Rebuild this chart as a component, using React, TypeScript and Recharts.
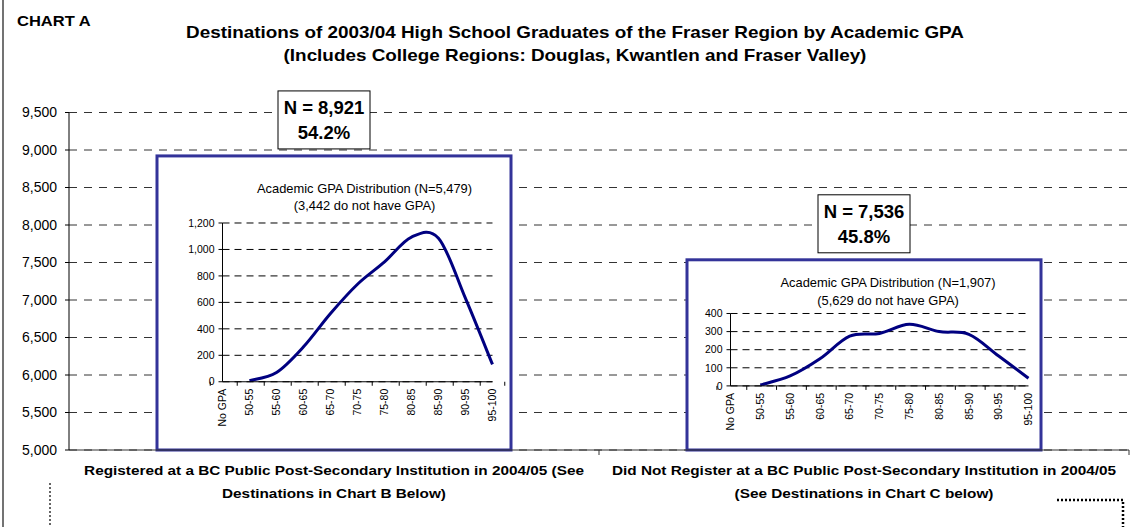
import React from "react";
import { BarChart, Bar, XAxis, YAxis, CartesianGrid, LineChart, Line } from "recharts";

// ---------- data ----------
const CATEGORY_LINES: string[][] = [
  ["Registered at a BC Public Post-Secondary Institution in 2004/05 (See", "Destinations in Chart B Below)"],
  ["Did Not Register at a BC Public Post-Secondary Institution in 2004/05", "(See Destinations in Chart C below)"],
];
const CATEGORY_KEYS = ["registered", "notRegistered"];
const TOTALS = [8921, 7536];
const SHARES = [54.2, 45.8];
const Y_TICKS = [5000, 5500, 6000, 6500, 7000, 7500, 8000, 8500, 9000, 9500];

const GPA_BANDS = ["No GPA", "50-55", "55-60", "60-65", "65-70", "70-75", "75-80", "80-85", "85-90", "90-95", "95-100"];
const GPA_REGISTERED: (number | null)[] = [null, 8, 70, 264, 516, 737, 906, 1094, 1085, 630, 131];
const GPA_NOT_REGISTERED: (number | null)[] = [null, 5, 55, 150, 275, 290, 340, 300, 285, 165, 42];
const GPA_REG_TICKS = [0, 200, 400, 600, 800, 1000, 1200];
const GPA_NOTREG_TICKS = [0, 100, 200, 300, 400];
const INSET_TITLES: string[][] = [
  ["Academic GPA Distribution (N=5,479)", "(3,442 do not have GPA)"],
  ["Academic GPA Distribution (N=1,907)", "(5,629 do not have GPA)"],
];

const TITLE_LINES = [
  "Destinations of 2003/04 High School Graduates of the Fraser Region by Academic GPA",
  "(Includes College Regions: Douglas, Kwantlen and Fraser Valley)",
];

// ---------- derived tables ----------
const mainData = CATEGORY_KEYS.map((k, i) => ({ key: k, total: TOTALS[i], share: SHARES[i] }));
const insetSeries = [GPA_REGISTERED, GPA_NOT_REGISTERED];
const insetTicks = [GPA_REG_TICKS, GPA_NOTREG_TICKS];

// ---------- layout / style ----------
const FONT = "'Liberation Sans', Arial, Helvetica, sans-serif";
const W = 1137;
const H = 527;
const PLOT_LEFT = 69;
const PLOT_RIGHT = 1129;
const BAND = (PLOT_RIGHT - PLOT_LEFT) / CATEGORY_KEYS.length;
const BOX_BLUE = "#333399";
const LINE_NAVY = "#000080";
const STRETCH = 1.18; // horizontal stretch of the heading / category texts

const insetLayouts = [
  { left: 65.5, right: 18.5, top: 67, bottom: 68.3, titleX: 207.5, titleY: [33, 50], labelDx: -10 },
  { left: 43.5, right: 12.5, top: 53.5, bottom: 64.3, titleX: 201, titleY: [23, 41], labelDx: 0 },
];

const stretchAt = (x: number, s: number) => `translate(${x},0) scale(${s},1) translate(${-x},0)`;

// Excel-like smoothed line (Catmull-Rom)
const smoothCurve: any = (context: any) => {
  let pts: number[][] = [];
  return {
    areaStart() {},
    areaEnd() {},
    lineStart() {
      pts = [];
    },
    point(x: number, y: number) {
      pts.push([+x, +y]);
    },
    lineEnd() {
      const n = pts.length;
      if (!n) return;
      context.moveTo(pts[0][0], pts[0][1]);
      for (let i = 0; i < n - 1; i++) {
        const p0 = pts[i - 1] || pts[i];
        const p1 = pts[i];
        const p2 = pts[i + 1];
        const p3 = pts[i + 2] || p2;
        context.bezierCurveTo(
          p1[0] + (p2[0] - p0[0]) / 6,
          p1[1] + (p2[1] - p0[1]) / 6,
          p2[0] - (p3[0] - p1[0]) / 6,
          p2[1] - (p3[1] - p1[1]) / 6,
          p2[0],
          p2[1]
        );
      }
    },
  };
};

const fmt = (v: number) => v.toLocaleString("en-US");

function GpaInset({ width, height, idx }: { width: number; height: number; idx: number }) {
  const lay = insetLayouts[idx];
  const yAxisW = 40;
  const xAxisH = 50;
  const data = GPA_BANDS.map((b, i) => ({ band: b, count: insetSeries[idx][i] }));
  const ticks = insetTicks[idx];
  const plotW = width - lay.left - lay.right;
  const bw = plotW / GPA_BANDS.length;
  const XTick = (p: any) => {
    const { x, y, payload, index } = p;
    return (
      <g>
        <line x1={x - bw / 2} y1={y} x2={x - bw / 2} y2={y + 4} stroke="#000" />
        {index === GPA_BANDS.length - 1 && <line x1={x + bw / 2} y1={y} x2={x + bw / 2} y2={y + 4} stroke="#000" />}
        <text
          x={x}
          y={y + 7}
          transform={`rotate(-90, ${x}, ${y + 7})`}
          textAnchor="end"
          dy="0.35em"
          fontSize={10.5}
          fontFamily={FONT}
          fill="#000"
        >
          {payload.value}
        </text>
      </g>
    );
  };
  return (
    <LineChart
      width={width}
      height={height}
      data={data}
      margin={{ top: lay.top, right: lay.right, bottom: lay.bottom - xAxisH, left: lay.left - yAxisW }}
    >
      <CartesianGrid vertical={false} stroke="#000" strokeDasharray="7 5" />
      <XAxis
        dataKey="band"
        interval={0}
        height={xAxisH}
        tickLine={false}
        tickSize={0}
        tickMargin={0}
        axisLine={{ stroke: "#000" }}
        tick={XTick}
      />
      <YAxis
        width={yAxisW}
        domain={[0, ticks[ticks.length - 1]]}
        ticks={ticks}
        interval={0}
        tickFormatter={fmt}
        tickSize={4}
        tickMargin={4}
        axisLine={{ stroke: "#000" }}
        tickLine={{ stroke: "#000" }}
        tick={{ fontSize: 10.5, fill: "#000", fontFamily: FONT }}
      />
      <Line
        dataKey="count"
        type={smoothCurve}
        stroke={LINE_NAVY}
        strokeWidth={3}
        dot={false}
        isAnimationActive={false}
      />
    </LineChart>
  );
}

const BoxShape = (props: any) => {
  const { x, y, width, height, index, payload } = props;
  const lay = insetLayouts[index];
  const cx = x + width / 2 + lay.labelDx;
  const lw = 92;
  const lh = 58;
  const ly = y - 7 - lh;
  return (
    <g>
      <rect x={cx - lw / 2} y={ly} width={lw} height={lh} fill="#fff" stroke="#000" strokeWidth={1} />
      <text x={cx} y={ly + 17} textAnchor="middle" dominantBaseline="central" fontSize={18.5} fontWeight="bold" fontFamily={FONT} fill="#000">
        {`N = ${fmt(payload.total)}`}
      </text>
      <text x={cx} y={ly + 42} textAnchor="middle" dominantBaseline="central" fontSize={18.5} fontWeight="bold" fontFamily={FONT} fill="#000">
        {`${payload.share.toFixed(1)}%`}
      </text>
      <rect x={x} y={y} width={width} height={height} fill="#fff" stroke={BOX_BLUE} strokeWidth={3} />
      {INSET_TITLES[index].map((t, i) => (
        <text
          key={i}
          x={x + lay.titleX}
          y={y + lay.titleY[i]}
          textAnchor="middle"
          dominantBaseline="central"
          fontSize={12.9}
          fontFamily={FONT}
          fill="#000"
        >
          {t}
        </text>
      ))}
      <foreignObject x={x} y={y} width={width} height={height}>
        <div style={{ width, height }}>
          <GpaInset width={width} height={height} idx={index} />
        </div>
      </foreignObject>
    </g>
  );
};

const MainTick = (p: any) => {
  const { x, y, index } = p;
  const lines = CATEGORY_LINES[index];
  return (
    <g>
      <line x1={x + BAND / 2} y1={y} x2={x + BAND / 2} y2={y + 5} stroke="#333" />
      {lines.map((l, i) => (
        <text
          key={i}
          x={x}
          y={y + 20 + i * 23}
          transform={stretchAt(x, STRETCH)}
          textAnchor="middle"
          dominantBaseline="central"
          fontSize={13}
          fontWeight="bold"
          fontFamily={FONT}
          fill="#000"
        >
          {l}
        </text>
      ))}
    </g>
  );
};

export default function App() {
  return (
    <div style={{ position: "absolute", left: 0, top: 0, width: W, height: H, background: "#fff", fontFamily: FONT }}>
      <BarChart width={W} height={H} data={mainData} margin={{ top: 112.5, right: W - PLOT_RIGHT, bottom: 17, left: PLOT_LEFT - 60 }}>
        <CartesianGrid vertical={false} stroke="#333" strokeDasharray="8 7" />
        <XAxis
          dataKey="key"
          height={60}
          interval={0}
          tickLine={false}
          tickSize={0}
          tickMargin={0}
          axisLine={{ stroke: "#333" }}
          tick={MainTick}
        />
        <YAxis
          width={60}
          domain={[5000, 9500]}
          ticks={Y_TICKS}
          interval={0}
          tickFormatter={fmt}
          tickSize={4}
          tickMargin={8}
          axisLine={{ stroke: "#000" }}
          tickLine={{ stroke: "#000" }}
          tick={{ fontSize: 14, fill: "#000", fontFamily: FONT }}
        />
        <Bar dataKey="total" barSize={354} isAnimationActive={false} shape={BoxShape} />
      </BarChart>
      <svg width={W} height={H} style={{ position: "absolute", left: 0, top: 0, pointerEvents: "none" }}>
        <line x1={3} y1={0} x2={3} y2={H} stroke="#444" strokeWidth={1.5} />
        <text
          x={17}
          y={21}
          transform={stretchAt(17, STRETCH)}
          dominantBaseline="central"
          fontSize={14}
          fontWeight="bold"
          fontFamily={FONT}
          fill="#000"
        >
          CHART A
        </text>
        {TITLE_LINES.map((t, i) => (
          <text
            key={i}
            x={575}
            y={33 + i * 23}
            transform={stretchAt(575, STRETCH)}
            textAnchor="middle"
            dominantBaseline="central"
            fontSize={16}
            fontWeight="bold"
            fontFamily={FONT}
            fill="#000"
          >
            {t}
          </text>
        ))}
        <line x1={50} y1={483} x2={50} y2={H} stroke="#333" strokeWidth={1.5} strokeDasharray="2 2" />
        <polyline points={`1057,500 1123,500 1123,${H}`} fill="none" stroke="#000" strokeWidth={2.5} strokeDasharray="2 2" />
      </svg>
    </div>
  );
}
